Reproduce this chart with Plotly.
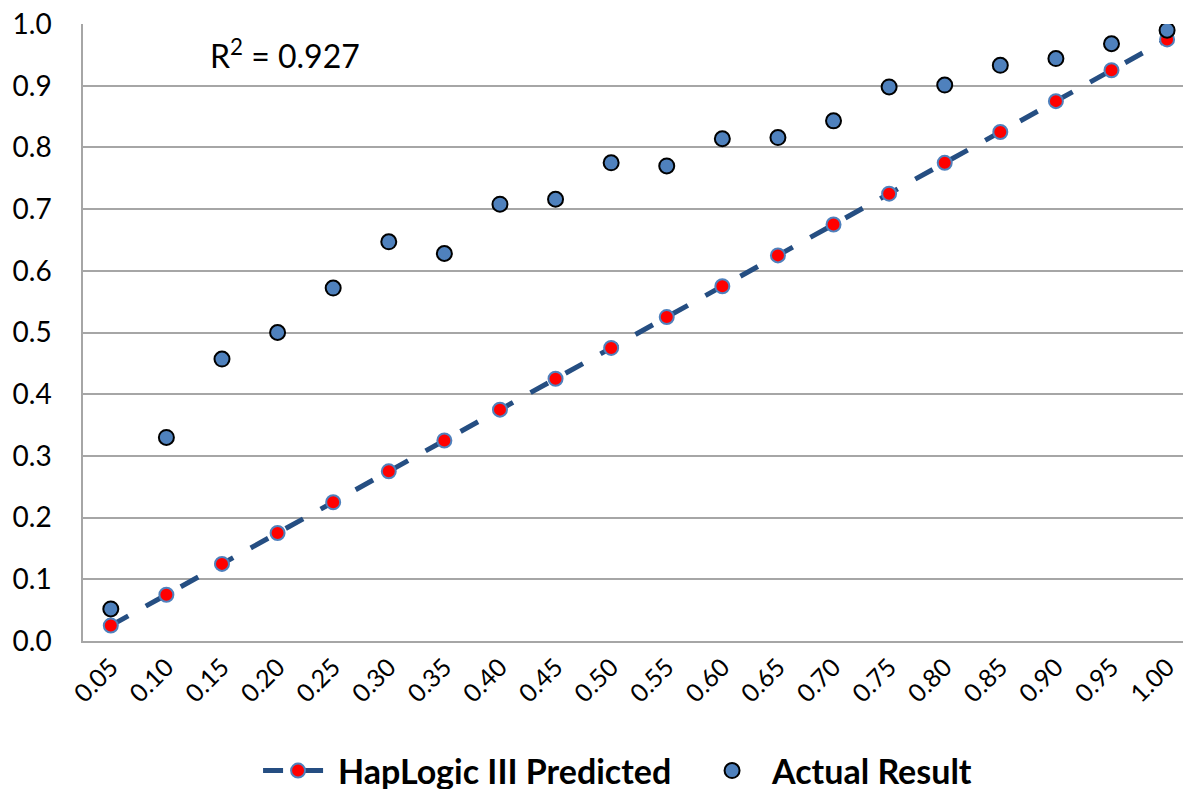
import plotly.graph_objects as go

categories = ["0.05", "0.10", "0.15", "0.20", "0.25", "0.30", "0.35", "0.40", "0.45", "0.50",
              "0.55", "0.60", "0.65", "0.70", "0.75", "0.80", "0.85", "0.90", "0.95", "1.00"]
predicted = [0.025, 0.075, 0.125, 0.175, 0.225, 0.275, 0.325, 0.375, 0.425, 0.475,
             0.525, 0.575, 0.625, 0.675, 0.725, 0.775, 0.825, 0.875, 0.925, 0.975]
actual = [0.052, 0.330, 0.457, 0.500, 0.572, 0.647, 0.628, 0.708, 0.716, 0.775,
          0.770, 0.814, 0.816, 0.843, 0.898, 0.901, 0.933, 0.944, 0.968, 0.990]
y_ticks = [0.0, 0.1, 0.2, 0.3, 0.4, 0.5, 0.6, 0.7, 0.8, 0.9, 1.0]
r2_text = "R<sup>2</sup> = 0.927"

FONT = "Lato"
W, H = 1183, 800

fig = go.Figure()
fig.add_trace(go.Scatter(
    x=categories, y=predicted, mode="lines+markers", name="HapLogic III Predicted",
    line=dict(color="#254E82", width=5, dash="20px,20px"),
    marker=dict(color="#FF0000", size=14, line=dict(color="#4F81BD", width=2)),
    legendwidth=349,
))
fig.add_trace(go.Scatter(
    x=categories, y=actual, mode="markers", name="Actual Result",
    marker=dict(color="#4F81BD", size=15, line=dict(color="#000000", width=2)),
))

fig.add_annotation(
    text=r2_text, xref="paper", yref="paper", x=0.113, y=0.952,
    xanchor="left", yanchor="middle", showarrow=False,
    font=dict(family=FONT, size=32, color="#000000"),
)

fig.update_layout(
    width=W, height=H,
    margin=dict(l=75, r=0, t=16, b=167),
    paper_bgcolor="white", plot_bgcolor="white",
    font=dict(family=FONT, color="#000000"),
    showlegend=True,
    legend=dict(
        orientation="h", x=0.158, xanchor="left", y=-0.2107, yanchor="middle",
        font=dict(family=FONT, size=34, color="#000000", weight="bold"),
        itemwidth=70, traceorder="normal", bgcolor="rgba(0,0,0,0)",
    ),
    xaxis=dict(
        type="category", range=[-0.5, 19.43], tickangle=-45,
        tickfont=dict(family=FONT, size=25), showgrid=False,
        showline=True, linecolor="#A6A6A6", linewidth=1.5,
        ticks="", zeroline=False, automargin=False,
    ),
    yaxis=dict(
        range=[0, 1.0], tickvals=y_ticks, tickformat=".1f",
        tickfont=dict(family=FONT, size=28),
        showgrid=True, gridcolor="#A6A6A6", gridwidth=1.5,
        showline=True, linecolor="#A6A6A6", linewidth=1.5,
        ticks="", zeroline=False, ticklabelstandoff=24, automargin=False,
        ticklabeloverflow="allow",
    ),
)

fig.write_html("out.html")
